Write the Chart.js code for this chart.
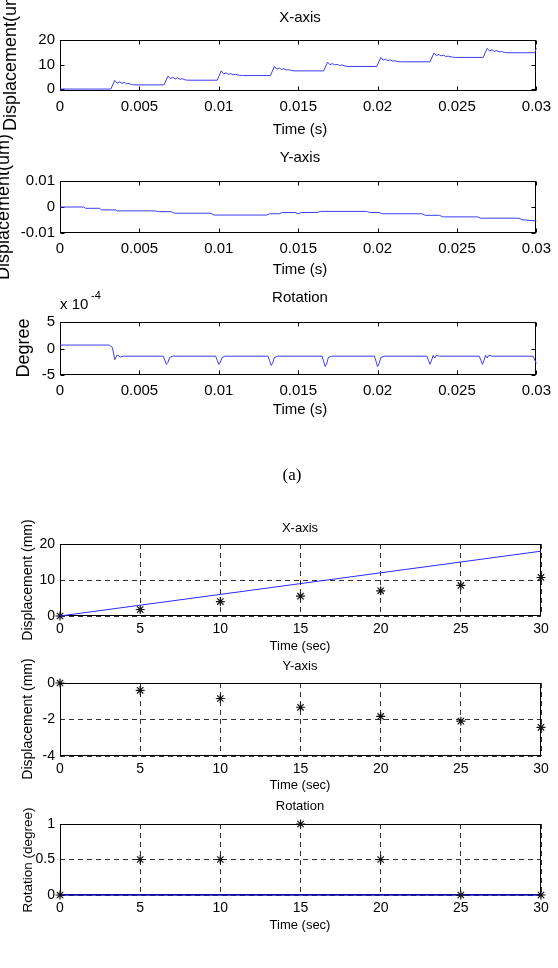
<!DOCTYPE html>
<html lang="en">
<head>
<meta charset="UTF-8">
<title>Displacement and rotation</title>
<script src="https://cdn.jsdelivr.net/npm/chart.js@4.4.1/dist/chart.umd.min.js"></script>
<style>
  html, body { margin: 0; padding: 0; background: #fff; }
  #page { position: relative; width: 558px; height: 968px; overflow: hidden; }
  #page canvas { position: absolute; left: 0; top: 0; }
</style>
</head>
<body>
<div id="page"></div>
<script>
// ---- data: simulation (top three panels) ----
const xTime = [0, 0.0032, 0.00345, 0.0036, 0.00375, 0.0039, 0.00405, 0.0042, 0.00435, 0.0045, 0.0047,
  0.00655, 0.0068, 0.00695, 0.0071, 0.00725, 0.0074, 0.00755, 0.0077, 0.0079, 0.0081,
  0.0099, 0.01015, 0.0103, 0.01045, 0.0106, 0.01075, 0.0109, 0.01105, 0.0113, 0.0115,
  0.01325, 0.0135, 0.01365, 0.0138, 0.01395, 0.0141, 0.01425, 0.0144, 0.0146, 0.0148,
  0.0166, 0.01685, 0.017, 0.01715, 0.0173, 0.01745, 0.0176, 0.01775, 0.018, 0.0182,
  0.01995, 0.0202, 0.02035, 0.0205, 0.02065, 0.0208, 0.02095, 0.0211, 0.0213, 0.0215,
  0.0233, 0.02355, 0.0237, 0.02385, 0.024, 0.02415, 0.0243, 0.02445, 0.0247, 0.0249,
  0.02665, 0.0269, 0.02705, 0.0272, 0.02735, 0.0275, 0.02765, 0.0278, 0.028, 0.0282,
  0.0299, 0.03];
const xDisp = [0, 0, 3.5, 2.4, 2.9, 2.3, 2.7, 2.1, 2.3, 1.8, 1.7,
  1.7, 5.3, 4.2, 4.8, 4.1, 4.6, 4.0, 4.2, 3.7, 3.6,
  3.6, 7.4, 6.2, 6.6, 6.0, 6.3, 5.8, 6.0, 5.6, 5.5,
  5.5, 9.2, 8.1, 8.6, 8.0, 8.3, 7.8, 7.9, 7.5, 7.4,
  7.4, 11.0, 9.9, 10.4, 9.8, 10.1, 9.6, 9.8, 9.3, 9.2,
  9.2, 12.9, 11.8, 12.2, 11.6, 11.9, 11.4, 11.5, 11.2, 11.1,
  11.1, 14.7, 13.6, 14.1, 13.5, 13.8, 13.3, 13.4, 13.0, 12.9,
  12.9, 16.6, 15.5, 16.0, 15.3, 15.7, 15.2, 15.3, 14.9, 14.8,
  14.8, 16.8];

const yTime = [0, 0.0015, 0.0016, 0.0025, 0.0026, 0.0035, 0.0036, 0.006, 0.0062, 0.007, 0.0072,
  0.0095, 0.0097, 0.013, 0.0132, 0.0138, 0.014, 0.0148, 0.015, 0.0152, 0.0162, 0.0164,
  0.0193, 0.0195, 0.0201, 0.0203, 0.0228, 0.023, 0.0239, 0.0241, 0.0263, 0.0265,
  0.0289, 0.0291, 0.03];
const yDisp = [0, 0, -0.0005, -0.0005, -0.0011, -0.0011, -0.0015, -0.0015, -0.0018, -0.0018, -0.0024,
  -0.0024, -0.0031, -0.0031, -0.0026, -0.0026, -0.0021, -0.0021, -0.0026, -0.0021, -0.0021, -0.0017,
  -0.0017, -0.0021, -0.0021, -0.0026, -0.0026, -0.0032, -0.0032, -0.0038, -0.0038, -0.0043,
  -0.0043, -0.0049, -0.0054];

// rotation in units of 1e-4 degree
const rTime = [0, 0.0031, 0.0033, 0.00345, 0.0036, 0.0038, 0.004,
  0.0065, 0.0066, 0.0067, 0.0068, 0.0069, 0.0071,
  0.0098, 0.0099, 0.01, 0.0101, 0.0102, 0.0104,
  0.0131, 0.0132, 0.0133, 0.0134, 0.0135, 0.0137,
  0.0165, 0.0166, 0.0167, 0.0168, 0.0169, 0.0171,
  0.0198, 0.0199, 0.02, 0.0201, 0.0202, 0.0204,
  0.0231, 0.0232, 0.0233, 0.0234, 0.0235, 0.0236, 0.0237, 0.0239,
  0.0264, 0.0265, 0.0266, 0.0267, 0.0268, 0.0269, 0.027, 0.0272,
  0.0298, 0.0299, 0.03];
const rDeg = [0.65, 0.65, 0.2, -2.1, -1.2, -1.6, -1.45,
  -1.45, -2.2, -3.0, -2.6, -1.7, -1.45,
  -1.45, -2.2, -3.0, -2.6, -1.7, -1.45,
  -1.45, -2.3, -3.2, -2.7, -1.7, -1.45,
  -1.45, -2.4, -3.4, -2.8, -1.7, -1.45,
  -1.45, -2.4, -3.4, -2.8, -1.7, -1.45,
  -1.45, -2.2, -3.0, -2.2, -1.3, -1.8, -1.3, -1.45,
  -1.45, -2.2, -3.0, -2.2, -1.3, -1.8, -1.3, -1.45,
  -1.45, -2.2, -2.8];

// ---- data: experiment (bottom three panels) ----
const expTime = [0, 5, 10, 15, 20, 25, 30];
const simX = [0, 3, 6, 9, 12, 15, 18];
const expX = [0, 1.8, 4.0, 5.5, 7.0, 8.5, 10.7];
const expY = [0, -0.4, -0.85, -1.33, -1.83, -2.09, -2.43];
const simRot = [0, 0, 0, 0, 0, 0, 0];
const expRot = [0, 0.5, 0.5, 1, 0.5, 0, 0];

// ---- ticks ----
const topXTicks = [0, 0.005, 0.01, 0.015, 0.02, 0.025, 0.03];
const topXLabels = ['0', '0.005', '0.01', '0.015', '0.02', '0.025', '0.03'];
const botXTicks = [0, 5, 10, 15, 20, 25, 30];
const botXLabels = ['0', '5', '10', '15', '20', '25', '30'];
const y1Ticks = [0, 10, 20], y1Labels = ['0', '10', '20'];
const y2Ticks = [-0.01, 0, 0.01], y2Labels = ['-0.01', '0', '0.01'];
const y3Ticks = [-5, 0, 5], y3Labels = ['-5', '0', '5'];
const y4Ticks = [0, 10, 20], y4Labels = ['0', '10', '20'];
const y5Ticks = [-4, -2, 0], y5Labels = ['-4', '-2', '0'];
const y6Ticks = [0, 0.5, 1], y6Labels = ['0', '0.5', '1'];

const W = 558, H = 968, XAXIS_H = 26;
const SANS = "'Liberation Sans', Arial, sans-serif";
const BLUE = '#3c3cf4';

function pts(xs, ys) { return xs.map((x, i) => ({ x: x, y: ys[i] })); }
function lineSet(xs, ys, color, width) {
  return { data: pts(xs, ys), showLine: true, borderColor: color, borderWidth: width,
    pointRadius: 0, clip: false };
}
function starSet(xs, ys) {
  return { data: pts(xs, ys), showLine: false, pointStyle: 'star', pointRadius: 4.5,
    borderColor: '#111', backgroundColor: '#111', borderWidth: 1.2, clip: false };
}

// box around the axes + matlab-like inward ticks
const framePlugin = {
  id: 'frame',
  beforeDatasetsDraw(chart, args, opts) {
    const ctx = chart.ctx, a = chart.chartArea;
    const L = Math.round(a.left) + 0.5, R = Math.round(a.right) - 0.5;
    const T = Math.round(a.top) + 0.5, B = Math.round(a.bottom) - 0.5;
    ctx.save();
    ctx.strokeStyle = '#000';
    ctx.lineWidth = 1;
    ctx.strokeRect(L, T, R - L, B - T);
    const n = opts.tickLen || 0;
    if (n) {
      ctx.beginPath();
      chart.scales.x.ticks.forEach(t => {
        const px = Math.round(chart.scales.x.getPixelForValue(t.value)) + 0.5;
        ctx.moveTo(px, T); ctx.lineTo(px, T + n);
        ctx.moveTo(px, B); ctx.lineTo(px, B - n);
      });
      chart.scales.y.ticks.forEach(t => {
        const py = Math.round(chart.scales.y.getPixelForValue(t.value)) + 0.5;
        ctx.moveTo(L, py); ctx.lineTo(L + n, py);
        ctx.moveTo(R, py); ctx.lineTo(R - n, py);
      });
      ctx.stroke();
    }
    ctx.restore();
  }
};

const labelPlugin = {
  id: 'labels',
  afterDraw(chart, args, opts) {
    const ctx = chart.ctx;
    (opts.items || []).forEach(t => {
      ctx.save();
      ctx.font = t.font;
      ctx.fillStyle = '#000';
      ctx.textAlign = t.align || 'center';
      ctx.textBaseline = 'middle';
      ctx.translate(t.x, t.y);
      if (t.rot) ctx.rotate(-Math.PI / 2);
      ctx.fillText(t.text, 0, 0);
      ctx.restore();
    });
  }
};

const panels = [
  { top: 40, bottom: 91, left: 60, right: 540, xMax: 0.03, xTicks: topXTicks, xLabels: topXLabels,
    yMin: -0.8, yMax: 20, yTicks: y1Ticks, yLabels: y1Labels, size: 15, pad: 7, grid: false, tickLen: 4,
    sets: [lineSet(xTime, xDisp, BLUE, 1)],
    texts: [
      { text: 'X-axis', x: 300, y: 18, font: '15px ' + SANS },
      { text: 'Time (s)', x: 300, y: 130, font: '15px ' + SANS },
      { text: 'Displacement(um)', x: 11, y: 58, font: '18px ' + SANS, rot: true }
    ] },
  { top: 181, bottom: 233, left: 60, right: 540, xMax: 0.03, xTicks: topXTicks, xLabels: topXLabels,
    yMin: -0.01, yMax: 0.01, yTicks: y2Ticks, yLabels: y2Labels, size: 15, pad: 7, grid: false, tickLen: 4,
    sets: [lineSet(yTime, yDisp, BLUE, 1)],
    texts: [
      { text: 'Y-axis', x: 300, y: 158, font: '15px ' + SANS },
      { text: 'Time (s)', x: 300, y: 270, font: '15px ' + SANS },
      { text: 'Displacement(um)', x: 4, y: 207, font: '18px ' + SANS, rot: true }
    ] },
  { top: 322, bottom: 375, left: 60, right: 540, xMax: 0.03, xTicks: topXTicks, xLabels: topXLabels,
    yMin: -5, yMax: 5, yTicks: y3Ticks, yLabels: y3Labels, size: 15, pad: 7, grid: false, tickLen: 4,
    sets: [lineSet(rTime, rDeg, BLUE, 1)],
    texts: [
      { text: 'Rotation', x: 300, y: 298, font: '15px ' + SANS },
      { text: 'x 10', x: 60, y: 305, font: '15px ' + SANS, align: 'left' },
      { text: '-4', x: 91, y: 296, font: '11px ' + SANS, align: 'left' },
      { text: 'Time (s)', x: 300, y: 410, font: '15px ' + SANS },
      { text: 'Degree', x: 24, y: 348, font: '18px ' + SANS, rot: true },
      { text: '(a)', x: 292, y: 476, font: '17px "Liberation Serif", "Times New Roman", serif' }
    ] },
  { top: 544, bottom: 616, left: 60, right: 541, xMax: 30, xTicks: botXTicks, xLabels: botXLabels,
    yMin: 0, yMax: 20, yTicks: y4Ticks, yLabels: y4Labels, size: 14, pad: 5, grid: true, tickLen: 0,
    sets: [lineSet(expTime, simX, '#2a2aff', 1), starSet(expTime, expX)],
    texts: [
      { text: 'X-axis', x: 300, y: 528, font: '13px ' + SANS },
      { text: 'Time (sec)', x: 300, y: 646, font: '13px ' + SANS },
      { text: 'Displacement (mm)', x: 28, y: 580, font: '14px ' + SANS, rot: true }
    ] },
  { top: 683, bottom: 756, left: 60, right: 541, xMax: 30, xTicks: botXTicks, xLabels: botXLabels,
    yMin: -4, yMax: 0, yTicks: y5Ticks, yLabels: y5Labels, size: 14, pad: 5, grid: true, tickLen: 0,
    sets: [starSet(expTime, expY)],
    texts: [
      { text: 'Y-axis', x: 300, y: 666, font: '13px ' + SANS },
      { text: 'Time (sec)', x: 300, y: 785, font: '13px ' + SANS },
      { text: 'Displacement (mm)', x: 28, y: 719, font: '14px ' + SANS, rot: true }
    ] },
  { top: 824, bottom: 895, left: 60, right: 541, xMax: 30, xTicks: botXTicks, xLabels: botXLabels,
    yMin: 0, yMax: 1, yTicks: y6Ticks, yLabels: y6Labels, size: 14, pad: 5, grid: true, tickLen: 0,
    sets: [starSet(expTime, expRot), lineSet(expTime, simRot, '#1515c8', 1.6)],
    texts: [
      { text: 'Rotation', x: 300, y: 806, font: '13px ' + SANS },
      { text: 'Time (sec)', x: 300, y: 925, font: '13px ' + SANS },
      { text: 'Rotation (degree)', x: 28, y: 860, font: '13.5px ' + SANS, rot: true }
    ] }
];

const page = document.getElementById('page');
panels.forEach(p => {
  const canvas = document.createElement('canvas');
  canvas.width = W;
  canvas.height = H;
  page.appendChild(canvas);
  const gridOpts = { display: p.grid, drawTicks: false, color: '#333', lineWidth: 1 };
  new Chart(canvas.getContext('2d'), {
    type: 'scatter',
    data: { datasets: p.sets },
    plugins: [framePlugin, labelPlugin],
    options: {
      responsive: false,
      animation: false,
      devicePixelRatio: 1,
      layout: { padding: { left: 0, top: p.top, right: W - p.right, bottom: H - p.bottom - XAXIS_H } },
      plugins: {
        legend: { display: false },
        tooltip: { enabled: false },
        frame: { tickLen: p.tickLen },
        labels: { items: p.texts }
      },
      scales: {
        x: {
          type: 'linear', min: 0, max: p.xMax,
          afterBuildTicks: s => { s.ticks = p.xTicks.map(v => ({ value: v })); },
          afterFit: s => { s.height = XAXIS_H; },
          ticks: { autoSkip: false, maxRotation: 0, padding: p.pad, color: '#000',
            font: { family: SANS, size: p.size }, callback: (v, i) => p.xLabels[i] },
          grid: gridOpts,
          border: { display: false, dash: [5, 4] }
        },
        y: {
          type: 'linear', min: p.yMin, max: p.yMax,
          afterBuildTicks: s => { s.ticks = p.yTicks.map(v => ({ value: v })); },
          afterFit: s => { s.width = p.left; },
          ticks: { autoSkip: false, padding: 5, color: '#000',
            font: { family: SANS, size: p.size }, callback: (v, i) => p.yLabels[i] },
          grid: gridOpts,
          border: { display: false, dash: [5, 4] }
        }
      }
    }
  });
});
</script>
</body>
</html>
